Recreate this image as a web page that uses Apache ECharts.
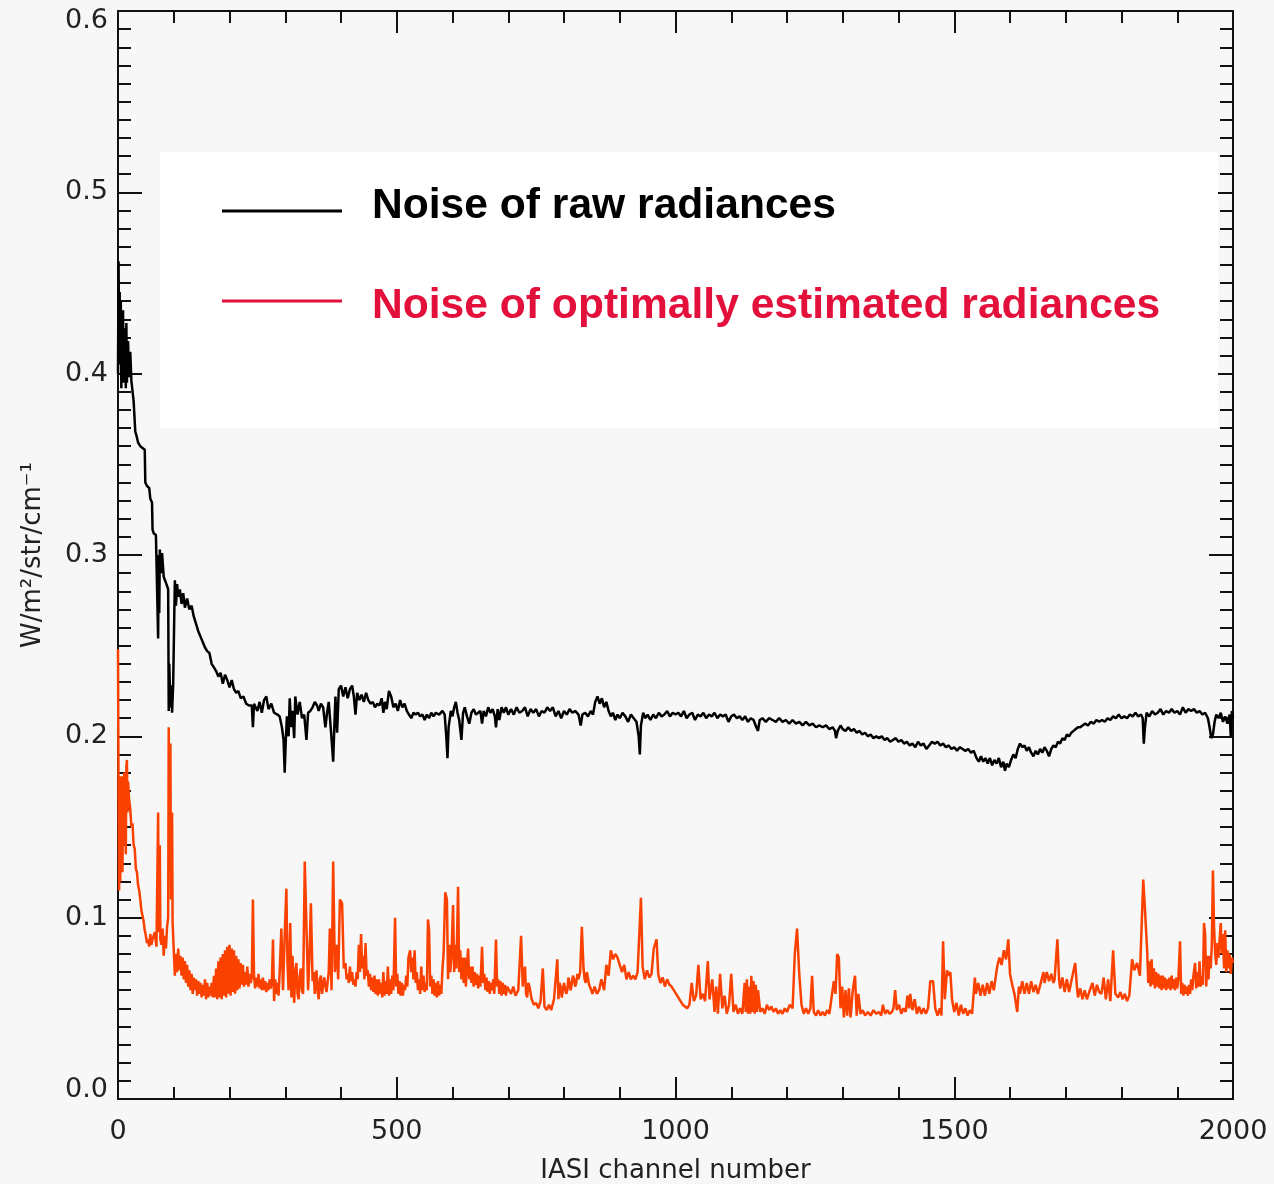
<!DOCTYPE html>
<html>
<head>
<meta charset="utf-8">
<title>IASI noise</title>
<script src="https://cdn.jsdelivr.net/npm/echarts@6/dist/echarts.min.js"></script>
<style>
  html, body { margin: 0; padding: 0; background: #f7f7f7; }
  #chart { width: 1274px; height: 1184px; }
</style>
</head>
<body>
<div id="chart"></div>
<script>
// Noise of raw radiances: [channel, W/m2/str/cm-1]
const rawNoise = [
  [0,0.400],[1,0.462],[2,0.415],[3,0.445],[4,0.405],[5,0.440],[6,0.392],[7,0.429],[8,0.400],[9,0.435],
  [10,0.395],[11,0.425],[12,0.410],[13,0.420],[14,0.392],[15,0.428],[16,0.395],[18,0.418],[20,0.398],[22,0.412],
  [24,0.396],[26,0.397],[28,0.385],[30,0.384],[31,0.368],[33,0.366],[36,0.362],[40,0.360],[44,0.359],[48,0.358],
  [49,0.340],[52,0.338],[56,0.337],[58,0.331],[61,0.329],[62,0.314],[64,0.312],[68,0.311],[71,0.310],[72,0.254],
  [73,0.300],[74,0.268],[75,0.303],[77,0.290],[79,0.301],[82,0.288],[85,0.287],[88,0.283],[90,0.281],[91,0.214],
  [92,0.240],[94,0.216],[96,0.228],[97,0.213],[99,0.229],[101,0.268],[102,0.286],[104,0.272],[106,0.284],[108,0.277],
  [111,0.281],[114,0.273],[117,0.279],[120,0.271],[124,0.276],[128,0.270],[132,0.272],[136,0.266],[140,0.262],[144,0.258],
  [148,0.255],[152,0.252],[156,0.249],[160,0.247],[164,0.246],[168,0.240],[172,0.238],[176,0.236],[180,0.233],[184,0.235],
  [188,0.229],[192,0.234],[196,0.231],[200,0.227],[204,0.231],[208,0.226],[212,0.224],[216,0.225],[220,0.221],[225,0.222],
  [230,0.218],[235,0.217],[240,0.217],[242,0.205],[244,0.218],[250,0.214],[254,0.219],[258,0.213],[262,0.220],[266,0.222],
  [270,0.215],[275,0.218],[280,0.213],[286,0.212],[290,0.211],[294,0.205],[297,0.198],[299,0.180],[301,0.198],[303,0.211],
  [306,0.200],[308,0.221],[311,0.205],[313,0.214],[316,0.199],[318,0.222],[322,0.212],[326,0.219],[330,0.210],[334,0.212],
  [338,0.198],[341,0.213],[345,0.214],[349,0.216],[353,0.219],[357,0.217],[360,0.214],[364,0.218],[368,0.216],[372,0.205],
  [375,0.213],[378,0.219],[382,0.203],[386,0.186],[388,0.205],[390,0.222],[393,0.202],[396,0.226],[400,0.228],[404,0.222],
  [408,0.227],[412,0.221],[416,0.226],[420,0.228],[423,0.222],[426,0.212],[429,0.224],[433,0.220],[437,0.223],[441,0.219],
  [445,0.224],[449,0.220],[453,0.218],[457,0.219],[461,0.216],[465,0.218],[469,0.217],[473,0.221],[476,0.213],[479,0.219],
  [482,0.215],[486,0.225],[490,0.222],[494,0.216],[498,0.218],[502,0.214],[506,0.220],[510,0.216],[514,0.218],[518,0.214],
  [522,0.212],[526,0.210],[530,0.213],[534,0.212],[538,0.213],[542,0.211],[546,0.212],[550,0.209],[554,0.212],[558,0.210],
  [562,0.213],[566,0.211],[570,0.213],[576,0.212],[582,0.214],[586,0.212],[589,0.199],[591,0.188],[593,0.205],[597,0.214],
  [600,0.211],[603,0.216],[606,0.219],[609,0.213],[612,0.209],[616,0.198],[619,0.213],[622,0.216],[626,0.211],[630,0.207],
  [634,0.213],[638,0.215],[642,0.212],[646,0.213],[650,0.214],[653,0.207],[656,0.214],[660,0.211],[664,0.216],[668,0.213],
  [672,0.215],[676,0.211],[678,0.205],[681,0.215],[684,0.209],[688,0.216],[692,0.213],[696,0.216],[700,0.212],[705,0.215],
  [710,0.212],[715,0.216],[720,0.213],[725,0.214],[730,0.216],[735,0.211],[740,0.215],[745,0.213],[750,0.215],[755,0.211],
  [760,0.214],[765,0.213],[770,0.216],[775,0.214],[780,0.216],[785,0.211],[790,0.214],[795,0.210],[800,0.214],[805,0.212],
  [810,0.215],[815,0.213],[820,0.214],[826,0.212],[830,0.206],[833,0.212],[838,0.213],[843,0.211],[848,0.214],[852,0.212],
  [856,0.219],[860,0.222],[864,0.218],[868,0.221],[872,0.216],[876,0.219],[880,0.214],[884,0.211],[888,0.213],[892,0.209],
  [896,0.212],[900,0.210],[905,0.213],[910,0.211],[915,0.208],[920,0.212],[925,0.210],[930,0.208],[934,0.200],[936,0.190],
  [938,0.206],[942,0.213],[946,0.210],[950,0.212],[955,0.209],[960,0.212],[965,0.210],[970,0.213],[975,0.211],[980,0.212],
  [985,0.214],[990,0.211],[995,0.213],[1000,0.212],[1005,0.213],[1010,0.211],[1015,0.214],[1020,0.210],[1025,0.212],[1030,0.213],
  [1035,0.209],[1040,0.212],[1045,0.211],[1050,0.213],[1055,0.210],[1060,0.212],[1065,0.211],[1070,0.213],[1075,0.210],[1080,0.212],
  [1085,0.211],[1090,0.212],[1095,0.208],[1100,0.211],[1105,0.212],[1110,0.210],[1115,0.211],[1120,0.209],[1125,0.211],[1130,0.208],
  [1135,0.210],[1140,0.209],[1145,0.205],[1148,0.203],[1151,0.209],[1156,0.210],[1162,0.208],[1168,0.210],[1174,0.209],[1180,0.208],
  [1186,0.210],[1192,0.208],[1198,0.209],[1204,0.207],[1210,0.209],[1216,0.207],[1222,0.208],[1228,0.206],[1234,0.208],[1240,0.206],
  [1246,0.207],[1252,0.205],[1258,0.206],[1264,0.205],[1270,0.206],[1276,0.204],[1282,0.205],[1286,0.203],[1288,0.199],[1291,0.203],
  [1296,0.206],[1300,0.204],[1305,0.203],[1310,0.205],[1315,0.203],[1320,0.204],[1325,0.202],[1330,0.203],[1335,0.201],[1340,0.202],
  [1345,0.200],[1350,0.201],[1355,0.199],[1360,0.200],[1365,0.199],[1370,0.200],[1375,0.198],[1380,0.199],[1385,0.197],[1390,0.198],
  [1395,0.199],[1400,0.197],[1405,0.198],[1410,0.196],[1415,0.197],[1420,0.195],[1425,0.196],[1430,0.194],[1435,0.197],[1440,0.195],
  [1445,0.196],[1450,0.193],[1455,0.195],[1460,0.197],[1465,0.196],[1470,0.197],[1475,0.195],[1480,0.196],[1485,0.194],[1490,0.195],
  [1495,0.193],[1500,0.194],[1505,0.192],[1510,0.194],[1515,0.193],[1520,0.192],[1525,0.193],[1530,0.191],[1535,0.192],[1540,0.188],
  [1544,0.186],[1548,0.189],[1552,0.186],[1556,0.188],[1560,0.185],[1564,0.188],[1568,0.184],[1572,0.187],[1576,0.185],[1580,0.188],
  [1584,0.183],[1588,0.186],[1591,0.181],[1594,0.185],[1598,0.183],[1602,0.187],[1606,0.190],[1610,0.188],[1614,0.193],[1618,0.196],
  [1622,0.194],[1626,0.195],[1630,0.192],[1634,0.194],[1638,0.191],[1642,0.189],[1646,0.192],[1650,0.190],[1654,0.193],[1658,0.191],
  [1662,0.194],[1666,0.192],[1670,0.189],[1674,0.193],[1678,0.195],[1682,0.194],[1686,0.197],[1690,0.196],[1694,0.199],[1698,0.198],
  [1702,0.201],[1706,0.200],[1710,0.202],[1714,0.203],[1718,0.204],[1722,0.205],[1726,0.205],[1730,0.206],[1735,0.207],[1740,0.206],
  [1745,0.208],[1750,0.207],[1755,0.209],[1760,0.208],[1765,0.209],[1770,0.208],[1775,0.210],[1780,0.209],[1785,0.211],[1790,0.210],
  [1795,0.212],[1800,0.210],[1805,0.211],[1810,0.210],[1815,0.212],[1820,0.211],[1825,0.213],[1830,0.211],[1835,0.212],[1838,0.210],
  [1840,0.196],[1842,0.205],[1845,0.213],[1850,0.211],[1855,0.214],[1860,0.212],[1865,0.213],[1870,0.215],[1875,0.212],[1880,0.214],
  [1885,0.213],[1890,0.215],[1895,0.213],[1900,0.214],[1905,0.212],[1910,0.216],[1915,0.213],[1920,0.215],[1925,0.214],[1930,0.215],
  [1935,0.213],[1940,0.214],[1945,0.212],[1950,0.213],[1955,0.210],[1958,0.205],[1961,0.199],[1964,0.201],[1967,0.208],[1970,0.212],
  [1974,0.210],[1978,0.213],[1982,0.208],[1986,0.211],[1990,0.207],[1994,0.212],[1996,0.200],[1998,0.214],[2000,0.210]
];

// Noise of optimally estimated radiances: [channel, W/m2/str/cm-1]
const estimatedNoise = [
  [0,0.248],[1,0.167],[2,0.115],[3,0.178],[4,0.120],[5,0.175],[6,0.128],[7,0.178],[8,0.125],[9,0.170],
  [10,0.140],[11,0.180],[12,0.150],[13,0.172],[14,0.135],[15,0.183],[16,0.187],[17,0.158],[18,0.175],[20,0.165],
  [22,0.160],[24,0.150],[26,0.152],[28,0.140],[30,0.138],[32,0.127],[34,0.125],[36,0.118],[38,0.115],[40,0.110],
  [42,0.104],[44,0.103],[46,0.098],[48,0.093],[50,0.090],[52,0.086],[54,0.088],[56,0.084],[58,0.091],[60,0.085],
  [62,0.088],[66,0.092],[69,0.084],[72,0.158],[73,0.092],[75,0.140],[76,0.088],[78,0.085],[80,0.094],[82,0.079],
  [84,0.090],[86,0.083],[88,0.095],[90,0.100],[91,0.205],[92,0.160],[94,0.196],[95,0.110],[97,0.158],[98,0.097],
  [100,0.082],[102,0.068],[104,0.080],[106,0.070],[108,0.083],[110,0.071],[112,0.079],[114,0.068],[116,0.078],[118,0.066],
  [120,0.076],[122,0.064],[124,0.074],[126,0.062],[128,0.071],[130,0.060],[132,0.069],[134,0.058],[136,0.067],[138,0.060],
  [140,0.066],[142,0.057],[144,0.065],[146,0.058],[148,0.064],[150,0.056],[152,0.063],[154,0.057],[156,0.066],[158,0.055],
  [160,0.064],[162,0.056],[164,0.062],[166,0.057],[168,0.064],[170,0.056],[172,0.068],[174,0.056],[176,0.072],[178,0.055],
  [180,0.076],[182,0.056],[184,0.078],[186,0.055],[188,0.080],[190,0.057],[192,0.082],[194,0.056],[196,0.084],[198,0.058],
  [200,0.085],[202,0.057],[204,0.083],[206,0.059],[208,0.082],[210,0.058],[212,0.079],[214,0.060],[216,0.077],[218,0.061],
  [220,0.075],[222,0.063],[224,0.074],[226,0.062],[228,0.070],[230,0.063],[232,0.073],[234,0.062],[236,0.069],[238,0.064],
  [240,0.067],[242,0.110],[244,0.068],[246,0.061],[248,0.067],[250,0.062],[252,0.069],[254,0.061],[256,0.066],[258,0.060],
  [260,0.067],[262,0.060],[264,0.065],[266,0.059],[268,0.064],[270,0.060],[272,0.066],[274,0.061],[276,0.064],[278,0.088],
  [280,0.054],[282,0.066],[284,0.058],[286,0.064],[288,0.057],[290,0.070],[293,0.094],[296,0.060],[299,0.090],[302,0.116],
  [304,0.075],[306,0.060],[309,0.097],[311,0.056],[313,0.079],[316,0.053],[318,0.070],[320,0.075],[322,0.058],[324,0.055],
  [326,0.068],[328,0.072],[330,0.060],[332,0.058],[335,0.131],[338,0.131],[341,0.060],[343,0.075],[346,0.108],[349,0.065],
  [351,0.070],[353,0.058],[356,0.071],[358,0.060],[360,0.055],[362,0.066],[364,0.068],[366,0.058],[368,0.057],[370,0.067],
  [372,0.066],[374,0.059],[376,0.058],[378,0.070],[380,0.094],[383,0.060],[386,0.131],[389,0.070],[392,0.085],[395,0.066],
  [398,0.110],[402,0.108],[405,0.072],[408,0.075],[410,0.066],[412,0.069],[414,0.064],[416,0.073],[418,0.065],[420,0.070],
  [422,0.063],[424,0.066],[426,0.062],[428,0.070],[430,0.066],[432,0.085],[434,0.070],[436,0.091],[438,0.072],[440,0.079],
  [442,0.066],[444,0.086],[446,0.068],[448,0.071],[450,0.062],[452,0.069],[454,0.060],[456,0.067],[458,0.059],[460,0.068],
  [462,0.058],[464,0.066],[466,0.057],[468,0.066],[470,0.058],[472,0.064],[474,0.056],[476,0.070],[478,0.057],[480,0.065],
  [482,0.058],[484,0.073],[486,0.057],[488,0.066],[490,0.058],[492,0.068],[494,0.060],[497,0.100],[499,0.062],[501,0.069],
  [503,0.058],[505,0.065],[507,0.057],[509,0.064],[511,0.057],[513,0.063],[515,0.060],[517,0.068],[519,0.062],[521,0.078],
  [524,0.082],[526,0.070],[528,0.078],[530,0.066],[532,0.082],[534,0.064],[536,0.070],[538,0.060],[540,0.066],[542,0.058],
  [544,0.073],[546,0.060],[548,0.068],[550,0.059],[552,0.064],[554,0.060],[556,0.099],[558,0.093],[560,0.062],[562,0.068],
  [564,0.058],[566,0.066],[568,0.057],[570,0.064],[572,0.056],[574,0.065],[576,0.057],[578,0.063],[580,0.058],[582,0.072],
  [584,0.080],[587,0.114],[590,0.110],[592,0.066],[594,0.085],[596,0.070],[598,0.078],[601,0.107],[603,0.070],[605,0.085],
  [607,0.072],[610,0.117],[612,0.070],[614,0.082],[616,0.066],[618,0.078],[620,0.064],[622,0.078],[624,0.062],[626,0.074],
  [628,0.083],[630,0.066],[632,0.073],[634,0.064],[636,0.073],[638,0.062],[640,0.070],[642,0.063],[644,0.069],[646,0.061],
  [648,0.068],[650,0.062],[653,0.084],[655,0.064],[657,0.069],[659,0.060],[661,0.067],[663,0.059],[665,0.065],[667,0.058],
  [669,0.064],[671,0.060],[673,0.066],[675,0.058],[678,0.088],[680,0.062],[682,0.066],[684,0.058],[686,0.065],[688,0.057],
  [690,0.064],[692,0.058],[694,0.063],[696,0.057],[698,0.062],[701,0.063],[705,0.058],[709,0.062],[713,0.057],[718,0.060],
  [723,0.090],[726,0.062],[728,0.070],[730,0.073],[732,0.058],[734,0.056],[736,0.064],[738,0.062],[742,0.055],[746,0.052],
  [750,0.053],[754,0.050],[758,0.054],[762,0.072],[765,0.051],[769,0.049],[773,0.052],[777,0.049],[782,0.055],[788,0.077],
  [790,0.055],[792,0.064],[794,0.062],[796,0.056],[798,0.057],[800,0.064],[802,0.063],[804,0.058],[806,0.060],[808,0.067],
  [810,0.066],[812,0.060],[814,0.064],[816,0.068],[818,0.066],[820,0.062],[822,0.064],[824,0.069],[826,0.066],[829,0.070],
  [832,0.095],[835,0.072],[837,0.066],[839,0.064],[841,0.070],[843,0.071],[845,0.063],[847,0.062],[849,0.060],[851,0.058],
  [855,0.062],[859,0.058],[863,0.060],[867,0.066],[872,0.060],[876,0.074],[880,0.068],[884,0.082],[888,0.077],[892,0.080],
  [896,0.078],[900,0.074],[904,0.070],[908,0.074],[912,0.066],[916,0.070],[920,0.066],[924,0.068],[928,0.066],[932,0.070],
  [938,0.111],[941,0.073],[945,0.066],[949,0.071],[953,0.067],[957,0.069],[961,0.083],[966,0.088],[969,0.069],[973,0.064],
  [977,0.067],[981,0.062],[985,0.066],[989,0.063],[993,0.062],[997,0.060],[1001,0.058],[1005,0.056],[1009,0.054],[1013,0.052],
  [1017,0.051],[1021,0.050],[1025,0.052],[1029,0.064],[1033,0.054],[1037,0.057],[1041,0.074],[1045,0.055],[1049,0.058],[1053,0.054],
  [1058,0.076],[1061,0.055],[1066,0.066],[1070,0.048],[1073,0.062],[1076,0.047],[1080,0.069],[1084,0.050],[1088,0.057],[1092,0.047],
  [1096,0.052],[1100,0.069],[1104,0.048],[1108,0.052],[1112,0.047],[1116,0.050],[1120,0.047],[1124,0.064],[1126,0.048],[1128,0.066],
  [1130,0.047],[1132,0.062],[1134,0.047],[1136,0.068],[1138,0.048],[1140,0.065],[1142,0.047],[1144,0.063],[1146,0.048],[1148,0.060],
  [1152,0.048],[1156,0.050],[1160,0.047],[1164,0.052],[1168,0.049],[1172,0.051],[1176,0.048],[1180,0.050],[1184,0.047],[1188,0.049],
  [1192,0.047],[1196,0.050],[1200,0.048],[1205,0.052],[1210,0.050],[1214,0.080],[1218,0.094],[1222,0.069],[1226,0.052],[1230,0.047],
  [1234,0.050],[1238,0.047],[1242,0.050],[1245,0.068],[1248,0.048],[1252,0.046],[1256,0.049],[1260,0.046],[1264,0.048],[1268,0.046],
  [1272,0.049],[1276,0.047],[1280,0.056],[1284,0.065],[1287,0.058],[1290,0.080],[1293,0.078],[1296,0.050],[1299,0.062],[1302,0.045],
  [1305,0.060],[1308,0.046],[1311,0.061],[1314,0.045],[1318,0.060],[1322,0.068],[1325,0.046],[1328,0.058],[1332,0.047],[1336,0.049],
  [1340,0.046],[1345,0.048],[1350,0.046],[1355,0.049],[1360,0.047],[1365,0.048],[1369,0.046],[1372,0.052],[1376,0.047],[1380,0.049],
  [1384,0.047],[1388,0.048],[1391,0.050],[1394,0.060],[1397,0.049],[1401,0.052],[1405,0.047],[1409,0.050],[1413,0.048],[1416,0.057],
  [1419,0.050],[1421,0.058],[1425,0.049],[1429,0.055],[1433,0.047],[1437,0.051],[1441,0.047],[1445,0.050],[1449,0.047],[1453,0.050],
  [1457,0.065],[1462,0.065],[1466,0.050],[1470,0.046],[1474,0.050],[1477,0.046],[1480,0.087],[1483,0.055],[1487,0.071],[1490,0.068],
  [1493,0.070],[1496,0.055],[1500,0.048],[1504,0.053],[1508,0.046],[1512,0.052],[1516,0.047],[1520,0.050],[1524,0.046],[1528,0.049],
  [1532,0.047],[1537,0.067],[1539,0.058],[1541,0.057],[1543,0.064],[1545,0.065],[1547,0.057],[1549,0.056],[1551,0.063],[1553,0.062],
  [1555,0.057],[1557,0.058],[1559,0.064],[1561,0.063],[1563,0.058],[1565,0.058],[1567,0.065],[1569,0.064],[1571,0.060],[1573,0.060],
  [1577,0.073],[1581,0.078],[1585,0.074],[1589,0.082],[1593,0.077],[1597,0.088],[1600,0.069],[1604,0.063],[1608,0.058],[1613,0.048],
  [1616,0.062],[1618,0.058],[1620,0.059],[1622,0.065],[1624,0.064],[1626,0.058],[1628,0.057],[1630,0.064],[1632,0.063],[1634,0.058],
  [1636,0.058],[1638,0.065],[1640,0.064],[1642,0.059],[1644,0.059],[1646,0.063],[1648,0.062],[1650,0.058],[1652,0.058],[1656,0.065],
  [1660,0.070],[1662,0.064],[1664,0.064],[1666,0.070],[1668,0.071],[1670,0.065],[1672,0.065],[1674,0.069],[1676,0.068],[1678,0.064],
  [1680,0.066],[1685,0.088],[1688,0.066],[1690,0.061],[1692,0.060],[1694,0.067],[1696,0.068],[1698,0.059],[1700,0.058],[1702,0.066],
  [1704,0.066],[1706,0.059],[1708,0.060],[1710,0.065],[1712,0.064],[1717,0.075],[1720,0.062],[1722,0.056],[1724,0.055],[1726,0.061],
  [1728,0.060],[1730,0.055],[1732,0.054],[1734,0.060],[1736,0.059],[1738,0.055],[1740,0.055],[1742,0.059],[1744,0.058],[1748,0.064],
  [1752,0.057],[1756,0.063],[1760,0.059],[1764,0.058],[1768,0.067],[1772,0.055],[1776,0.066],[1780,0.054],[1785,0.082],[1789,0.058],
  [1794,0.056],[1798,0.059],[1802,0.055],[1806,0.058],[1810,0.054],[1814,0.057],[1819,0.077],[1823,0.071],[1828,0.075],[1833,0.068],
  [1839,0.121],[1842,0.105],[1846,0.082],[1848,0.064],[1850,0.076],[1852,0.062],[1854,0.077],[1856,0.063],[1858,0.072],[1860,0.061],
  [1862,0.070],[1864,0.062],[1866,0.069],[1868,0.061],[1870,0.068],[1872,0.060],[1874,0.068],[1876,0.061],[1878,0.067],[1880,0.060],
  [1882,0.066],[1884,0.061],[1886,0.067],[1888,0.060],[1890,0.068],[1892,0.061],[1894,0.066],[1896,0.060],[1898,0.067],[1900,0.061],
  [1902,0.066],[1905,0.087],[1907,0.058],[1909,0.064],[1911,0.057],[1913,0.063],[1915,0.058],[1917,0.062],[1919,0.057],[1921,0.063],
  [1923,0.058],[1925,0.066],[1927,0.060],[1929,0.068],[1932,0.075],[1934,0.061],[1936,0.070],[1938,0.062],[1940,0.076],[1942,0.062],
  [1944,0.068],[1946,0.063],[1948,0.097],[1950,0.091],[1952,0.062],[1954,0.079],[1956,0.066],[1958,0.079],[1960,0.072],[1962,0.085],
  [1964,0.126],[1966,0.095],[1968,0.080],[1970,0.074],[1972,0.086],[1974,0.078],[1976,0.088],[1978,0.097],[1980,0.080],[1982,0.091],
  [1984,0.072],[1986,0.093],[1988,0.070],[1990,0.082],[1992,0.072],[1994,0.080],[1996,0.069],[1998,0.078],[2000,0.075]
];

const legendLabels = ['Noise of raw radiances', 'Noise of optimally estimated radiances'];
const xAxisTitle = 'IASI channel number';
const yAxisTitle = 'W/m\u00B2/str/cm\u207B\u00B9';

const axisColor = '#111';
const textColor = '#222';
const labelFont = '"DejaVu Sans", sans-serif';
const labelSize = 27;
const legendFont = 'bold 42.6px "Liberation Sans", Arial, sans-serif';

function frameAxis(extra) {
  return Object.assign({
    type: 'value',
    axisLine: { show: true, onZero: false, lineStyle: { color: axisColor, width: 2 } },
    axisTick: { show: true, inside: true, length: 22, lineStyle: { color: axisColor, width: 2 } },
    minorTick: { show: true, length: 12, lineStyle: { color: axisColor, width: 2 } },
    splitLine: { show: false },
    minorSplitLine: { show: false }
  }, extra);
}

const chart = echarts.init(document.getElementById('chart'), null, { renderer: 'canvas' });

chart.setOption({
  backgroundColor: '#f7f7f7',
  animation: false,
  grid: { left: 118, right: 41, top: 11, bottom: 85, containLabel: false, outerBoundsMode: 'none' },
  xAxis: [
    frameAxis({
      position: 'bottom', min: 0, max: 2000, interval: 500,
      minorTick: { show: true, splitNumber: 5, length: 12, lineStyle: { color: axisColor, width: 2 } },
      axisLabel: {
        show: true, margin: 19, fontFamily: labelFont, fontSize: labelSize, color: textColor,
        formatter: function (v) { return String(Math.round(v)); }
      },
      name: xAxisTitle, nameLocation: 'middle', nameGap: 59,
      nameTextStyle: { fontFamily: labelFont, fontSize: 26, color: textColor }
    }),
    frameAxis({
      position: 'top', min: 0, max: 2000, interval: 500,
      minorTick: { show: true, splitNumber: 5, length: 12, lineStyle: { color: axisColor, width: 2 } },
      axisLabel: { show: false }
    })
  ],
  yAxis: [
    frameAxis({
      position: 'left', min: 0, max: 0.6, interval: 0.1,
      minorTick: { show: true, splitNumber: 10, length: 13, lineStyle: { color: axisColor, width: 2 } },
      axisTick: { show: true, inside: true, length: 24, lineStyle: { color: axisColor, width: 2 } },
      axisLabel: {
        show: true, margin: 10, fontFamily: labelFont, fontSize: labelSize, color: textColor,
        formatter: function (v) {
          const s = v.toFixed(1);
          if (v <= 0) return '{lo|' + s + '}';
          if (v >= 0.6) return '{hi|' + s + '}';
          return s;
        },
        rich: {
          lo: { fontFamily: labelFont, fontSize: labelSize, color: textColor, padding: [0, 0, 18, 0] },
          hi: { fontFamily: labelFont, fontSize: labelSize, color: textColor, padding: [20, 0, 0, 0] }
        }
      },
      name: yAxisTitle, nameLocation: 'middle', nameGap: 72, nameRotate: 90,
      nameTextStyle: { fontFamily: labelFont, fontSize: 26, color: textColor }
    }),
    frameAxis({
      position: 'right', min: 0, max: 0.6, interval: 0.1,
      minorTick: { show: true, splitNumber: 10, length: 13, lineStyle: { color: axisColor, width: 2 } },
      axisTick: { show: true, inside: true, length: 24, lineStyle: { color: axisColor, width: 2 } },
      axisLabel: { show: false }
    })
  ],
  series: [
    {
      name: legendLabels[1], type: 'line', xAxisIndex: 0, yAxisIndex: 0,
      data: estimatedNoise, showSymbol: false, symbol: 'none',
      lineStyle: { color: '#fa4100', width: 2.5 }, z: 3
    },
    {
      name: legendLabels[0], type: 'line', xAxisIndex: 0, yAxisIndex: 0,
      data: rawNoise, showSymbol: false, symbol: 'none',
      lineStyle: { color: '#000000', width: 2.5 }, z: 4
    }
  ],
  graphic: [
    { type: 'rect', z: 1, shape: { x: 160, y: 152, width: 1058, height: 276 }, style: { fill: '#ffffff' } },
    { type: 'line', z: 10, shape: { x1: 222, y1: 211, x2: 342, y2: 211 }, style: { stroke: '#000000', lineWidth: 3 } },
    { type: 'text', z: 10, x: 372, y: 206, style: { text: legendLabels[0], font: legendFont, fill: '#000000', verticalAlign: 'middle' } },
    { type: 'line', z: 10, shape: { x1: 222, y1: 301, x2: 342, y2: 301 }, style: { stroke: '#e3103c', lineWidth: 3 } },
    { type: 'text', z: 10, x: 372, y: 306, style: { text: legendLabels[1], font: legendFont, fill: '#e3103c', verticalAlign: 'middle' } }
  ]
});
</script>
</body>
</html>
